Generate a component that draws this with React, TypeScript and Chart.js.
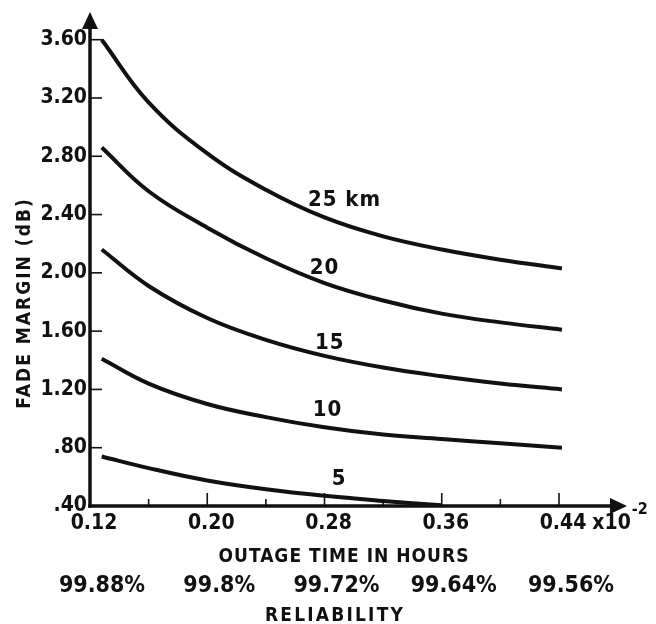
import { useEffect, useRef } from "react";
import { Chart, registerables } from "chart.js";

Chart.register(...registerables);

// ---- data ----
const outageTime = [0.128, 0.16, 0.2, 0.24, 0.28, 0.32, 0.36, 0.4, 0.442];
const margin25 = [3.6, 3.17, 2.82, 2.57, 2.38, 2.25, 2.16, 2.09, 2.03];
const margin20 = [2.86, 2.56, 2.31, 2.1, 1.93, 1.81, 1.72, 1.66, 1.61];
const margin15 = [2.16, 1.91, 1.69, 1.54, 1.43, 1.35, 1.29, 1.24, 1.2];
const margin10 = [1.41, 1.24, 1.1, 1.01, 0.94, 0.89, 0.86, 0.83, 0.8];
const margin5 = [0.74, 0.66, 0.575, 0.515, 0.47, 0.435, 0.405];

const distanceLabels = ["25 km", "20", "15", "10", "5"];
const yTicks = [0.4, 0.8, 1.2, 1.6, 2.0, 2.4, 2.8, 3.2, 3.6];
const yTickLabels = [".40", ".80", "1.20", "1.60", "2.00", "2.40", "2.80", "3.20", "3.60"];
const xTicks = [0.12, 0.16, 0.2, 0.24, 0.28, 0.32, 0.36, 0.4, 0.44];
const xTickLabels = ["0.12", "", "0.20", "", "0.28", "", "0.36", "", "0.44"];
const reliabilityLabels = ["99.88%", "99.8%", "99.72%", "99.64%", "99.56%"];

// label anchor points in data units (left edge x, vertical centre y)
const curveLabelAnchors = [
  { x: 0.2687, y: 2.5 },
  { x: 0.27, y: 2.03 },
  { x: 0.2735, y: 1.52 },
  { x: 0.272, y: 1.06 },
  { x: 0.285, y: 0.58 },
];

const INK = "#111111";
const FONT = '"DejaVu Sans Condensed", "DejaVu Sans", sans-serif';

const series = [margin25, margin20, margin15, margin10, margin5];

const figurePlugin = {
  id: "figureAxes",
  afterDatasetsDraw(chart: any) {
    const { ctx, chartArea: a, scales } = chart;
    const xs = scales.x;
    const ys = scales.y;
    const x0 = a.left;
    const y0 = a.bottom;
    ctx.save();
    ctx.strokeStyle = INK;
    ctx.fillStyle = INK;

    // axes
    ctx.lineWidth = 3.5;
    ctx.beginPath();
    ctx.moveTo(x0, y0 + 1.75);
    ctx.lineTo(x0, a.top + 12);
    ctx.stroke();
    ctx.beginPath();
    ctx.moveTo(x0, a.top);
    ctx.lineTo(x0 - 8, a.top + 17);
    ctx.lineTo(x0 + 8, a.top + 17);
    ctx.closePath();
    ctx.fill();

    ctx.beginPath();
    ctx.moveTo(x0 - 1.75, y0);
    ctx.lineTo(a.right - 12, y0);
    ctx.stroke();
    ctx.beginPath();
    ctx.moveTo(a.right, y0);
    ctx.lineTo(a.right - 17, y0 - 8);
    ctx.lineTo(a.right - 17, y0 + 8);
    ctx.closePath();
    ctx.fill();

    // y ticks + labels
    ctx.lineWidth = 1.6;
    ctx.font = `bold 21px ${FONT}`;
    ctx.textAlign = "right";
    ctx.textBaseline = "middle";
    yTicks.forEach((v, i) => {
      const py = ys.getPixelForValue(v);
      if (i > 0) {
        ctx.beginPath();
        ctx.moveTo(x0, py);
        ctx.lineTo(x0 + 12, py);
        ctx.stroke();
      }
      ctx.fillText(yTickLabels[i], x0 - 3, py);
    });

    // x ticks + labels
    ctx.textAlign = "center";
    ctx.textBaseline = "top";
    xTicks.forEach((v, i) => {
      const px = xs.getPixelForValue(v);
      const major = xTickLabels[i] !== "";
      if (i > 0) {
        ctx.beginPath();
        ctx.moveTo(px, y0);
        ctx.lineTo(px, y0 - (major ? 13 : 7));
        ctx.stroke();
      }
      if (major) ctx.fillText(xTickLabels[i], px + 4, y0 + 7);
    });

    // x10^-2 multiplier after the last tick label
    const lastIdx = xTicks.length - 1;
    const lastPx = xs.getPixelForValue(xTicks[lastIdx]) + 4;
    const lw = ctx.measureText(xTickLabels[lastIdx]).width;
    ctx.textAlign = "left";
    const mx = lastPx + lw / 2 + 6;
    ctx.fillText("x10", mx, y0 + 7);
    const mw = ctx.measureText("x10").width;
    ctx.font = `bold 16px ${FONT}`;
    ctx.fillText("-2", mx + mw + 1, y0 - 4);

    // axis titles
    ctx.font = `bold 19px ${FONT}`;
    (ctx as any).letterSpacing = "1px";
    ctx.textAlign = "center";
    ctx.textBaseline = "alphabetic";
    ctx.fillText("OUTAGE TIME IN HOURS", 344, 562);

    ctx.save();
    ctx.translate(30, 303);
    ctx.rotate(-Math.PI / 2);
    (ctx as any).letterSpacing = "2px";
    ctx.fillText("FADE MARGIN (dB)", 0, 0);
    ctx.restore();

    (ctx as any).letterSpacing = "2.2px";
    ctx.fillText("RELIABILITY", 335, 621);
    (ctx as any).letterSpacing = "0px";

    // reliability row
    ctx.font = `bold 23px ${FONT}`;
    const majors = xTicks.filter((_, i) => xTickLabels[i] !== "");
    majors.forEach((v, i) => {
      const px = xs.getPixelForValue(v);
      ctx.fillText(reliabilityLabels[i], px + 12, 592);
    });

    // curve labels
    ctx.font = `bold 22px ${FONT}`;
    ctx.textAlign = "left";
    ctx.textBaseline = "middle";
    (ctx as any).letterSpacing = "1px";
    curveLabelAnchors.forEach((p, i) => {
      ctx.fillText(distanceLabels[i], xs.getPixelForValue(p.x), ys.getPixelForValue(p.y));
    });
    (ctx as any).letterSpacing = "0px";

    ctx.restore();
  },
};

export default function App() {
  const ref = useRef<HTMLCanvasElement | null>(null);

  useEffect(() => {
    if (!ref.current) return;
    const datasets = series.map((vals, i) => ({
      label: distanceLabels[i],
      data: vals.map((v, j) => ({ x: outageTime[j], y: v })),
      borderColor: INK,
      borderWidth: 4,
      pointRadius: 0,
      fill: false,
      tension: 0.4,
      clip: false as any,
    }));
    const chart = new Chart(ref.current, {
      type: "line",
      data: { datasets },
      options: {
        animation: false,
        responsive: false,
        devicePixelRatio: 1,
        layout: { padding: { left: 90, right: 29, top: 12, bottom: 118 } },
        plugins: { legend: { display: false }, tooltip: { enabled: false } },
        scales: {
          x: { type: "linear", min: 0.12, max: 0.4864, display: false },
          y: { type: "linear", min: 0.4, max: 3.79, display: false },
        },
      },
      plugins: [figurePlugin],
    });
    return () => chart.destroy();
  }, []);

  return (
    <div style={{ position: "absolute", left: 0, top: 0, width: 656, height: 624, background: "#fff" }}>
      <canvas ref={ref} width={656} height={624} style={{ width: 656, height: 624, display: "block" }} />
    </div>
  );
}
